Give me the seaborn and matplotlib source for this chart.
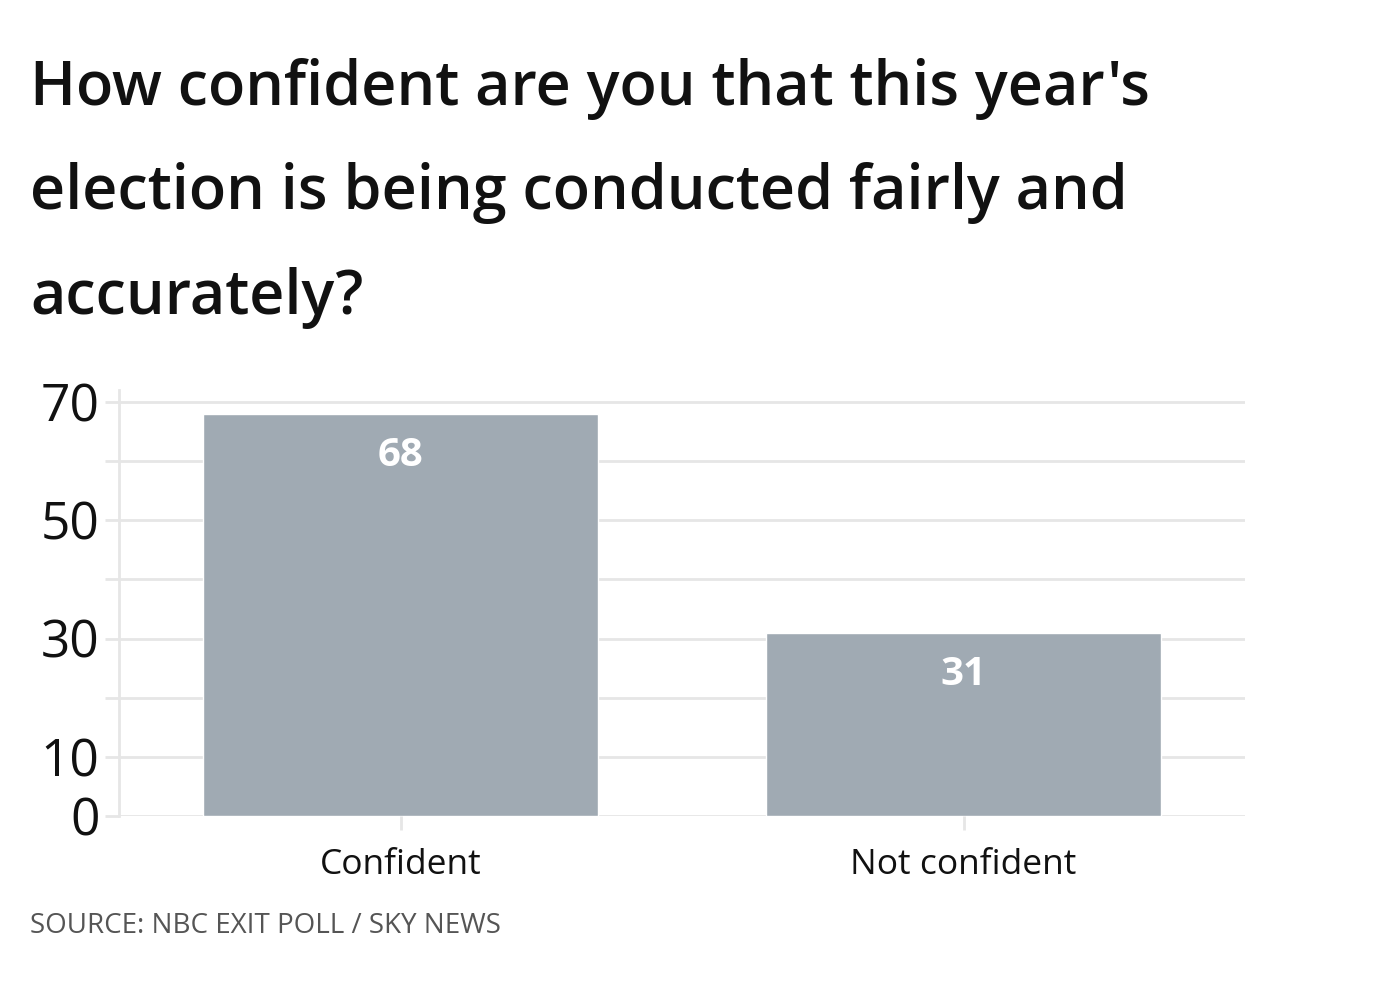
import matplotlib
matplotlib.use('Agg')
import matplotlib.pyplot as plt
import seaborn as sns
import pandas as pd

categories = ['Confident', 'Not confident']
values = [68, 31]
y_ticks = [0, 10, 20, 30, 40, 50, 60, 70]
y_tick_labels = ['0', '10', '', '30', '', '50', '', '70']
title = "How confident are you that this year's\nelection is being conducted fairly and\naccurately?"
source = 'SOURCE: NBC EXIT POLL / SKY NEWS'

BAR_COLOR = '#a0aab3'
GRID_COLOR = '#e6e6e6'

sns.set_theme(style='white')
plt.rcParams['font.family'] = ['Open Sans', 'DejaVu Sans']

df = pd.DataFrame({'answer': categories, 'share': values})

fig = plt.figure(figsize=(13.9, 9.91), dpi=100)
ax = fig.add_axes([119 / 1390, 1 - 816 / 991, (1245 - 119) / 1390, (816 - 390) / 991])

sns.barplot(data=df, x='answer', y='share', color=BAR_COLOR, width=0.7,
            saturation=1, ax=ax, zorder=3)

ax.set_xlim(-0.5, 1.5)
ax.set_ylim(0, 72)
ax.set_yticks(y_ticks)
ax.set_yticklabels(y_tick_labels)
ax.set_xlabel('')
ax.set_ylabel('')

ax.grid(axis='y', color=GRID_COLOR, linewidth=2, zorder=0)
for side in ['top', 'right', 'bottom']:
    ax.spines[side].set_visible(False)
ax.spines['left'].set_color(GRID_COLOR)
ax.spines['left'].set_linewidth(2)

ax.tick_params(axis='y', length=10, width=2, color=GRID_COLOR, labelsize=37,
               labelcolor='#111111', pad=4)
ax.tick_params(axis='x', length=10, width=2, color=GRID_COLOR, labelsize=25.5,
               labelcolor='#111111', pad=13)
ax.yaxis.set_tick_params(left=True)
ax.xaxis.set_tick_params(bottom=True)

for i, v in enumerate(values):
    ax.annotate(str(v), xy=(i, v), xytext=(0, -30), textcoords='offset points',
                ha='center', va='center', color='white', fontsize=29,
                fontweight='bold', zorder=4)

fig.text(30 / 1390, 1 - 58 / 991, title, ha='left', va='top', fontsize=44,
         fontweight='semibold', color='#111111', linespacing=1.9)
fig.text(30 / 1390, 1 - 933 / 991, source, ha='left', va='baseline', fontsize=20,
         color='#555555')

fig.savefig('out.png', dpi=100)
